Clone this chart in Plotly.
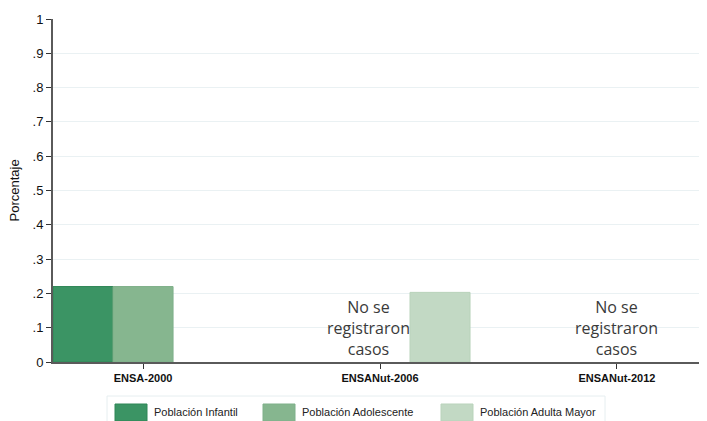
import plotly.graph_objects as go

# ------------------ Datos -----------------------------
surveys = ["ENSA-2000", "ENSANut-2006", "ENSANut-2012"]
infantil = [0.22, None, None]
adolescente = [0.22, None, None]
adulta_mayor = [None, 0.203, None]
series_names = ["Población Infantil", "Población Adolescente", "Población Adulta Mayor"]
series_colors = ["#3b9464", "#86b68f", "#c2d9c4"]
edge_colors = ["#2f8656", "#7fb08a", "#b9d3bb"]
no_cases_surveys = ["ENSANut-2006", "ENSANut-2012"]
no_cases_text = "No se<br>registraron<br>casos"
y_ticks = [0, 0.1, 0.2, 0.3, 0.4, 0.5, 0.6, 0.7, 0.8, 0.9, 1]
y_ticktext = ["0", ".1", ".2", ".3", ".4", ".5", ".6", ".7", ".8", ".9", "1"]

# la pagina tiene un margen de 8px en el body: se compensa aqui
OFF = 8
W, H = 707 - OFF, 421 - OFF
ML, MR, MT, MB = 53 - OFF, 0, 19 - OFF, 59


def px_x(p):
    return (p - OFF - ML) / (W - ML - MR)


def px_y(p):
    return (H - MB - (p - OFF)) / (H - MT - MB)


fig = go.Figure()
for name, vals, col, edge in zip(series_names, [infantil, adolescente, adulta_mayor], series_colors, edge_colors):
    fig.add_trace(go.Bar(
        x=surveys, y=vals, name=name,
        marker=dict(color=col, line=dict(color=edge, width=1)),
        showlegend=False,
    ))

# texto "No se registraron casos"
for s, shift in zip(no_cases_surveys, [-12, 0]):
    fig.add_annotation(
        x=s, y=0.1, xref="x", yref="y", text=no_cases_text, showarrow=False,
        xshift=shift, font=dict(family="Open Sans", size=16, color="#3a3a3a"),
        align="center",
    )

# eje y: titulo
fig.add_annotation(x=px_x(14), y=0.5, xref="paper", yref="paper", text="Porcentaje",
                   showarrow=False, textangle=-90, xanchor="center", yanchor="middle",
                   font=dict(family="Liberation Sans", size=13, color="#111"))

# leyenda manual (simbolos rectangulares anchos)
fig.add_shape(type="rect", xref="paper", yref="paper",
              x0=px_x(107), x1=px_x(605), y0=px_y(430), y1=px_y(396),
              line=dict(color="#e6eef0", width=1), fillcolor="white")
sym_x = [115, 263, 441]
for sx, name, col, edge in zip(sym_x, series_names, series_colors, edge_colors):
    fig.add_shape(type="rect", xref="paper", yref="paper",
                  x0=px_x(sx), x1=px_x(sx + 32), y0=px_y(421), y1=px_y(404),
                  line=dict(color=edge, width=1), fillcolor=col)
    fig.add_annotation(x=px_x(sx + 37), y=px_y(412), xref="paper", yref="paper",
                       text=name, showarrow=False, xanchor="left", yanchor="middle",
                       font=dict(family="Liberation Sans", size=11, color="#222"))

fig.update_layout(
    width=W, height=H,
    margin=dict(l=ML, r=MR, t=MT, b=MB, autoexpand=False),
    paper_bgcolor="white", plot_bgcolor="white",
    barmode="group", bargap=0.24, bargroupgap=0,
    showlegend=False,
    font=dict(family="Liberation Sans", color="#222"),
)
fig.update_xaxes(
    range=[-0.38, 2.38], showgrid=False, zeroline=False, automargin=False,
    showline=True, linecolor="#5a5a5a", linewidth=2,
    ticks="outside", ticklen=5, tickcolor="#333", tickwidth=1,
    tickfont=dict(family="Liberation Sans", size=11, color="#111", weight="bold"),
)
fig.update_yaxes(
    range=[0, 1], tickvals=y_ticks, ticktext=y_ticktext, automargin=False,
    showgrid=True, gridcolor="#eaf1f3", gridwidth=1, zeroline=False,
    showline=True, linecolor="#5a5a5a", linewidth=2,
    ticks="outside", ticklen=5, tickcolor="#333", tickwidth=1,
    tickfont=dict(family="Liberation Sans", size=13, color="#111"),
)

fig.write_html("out.html")
